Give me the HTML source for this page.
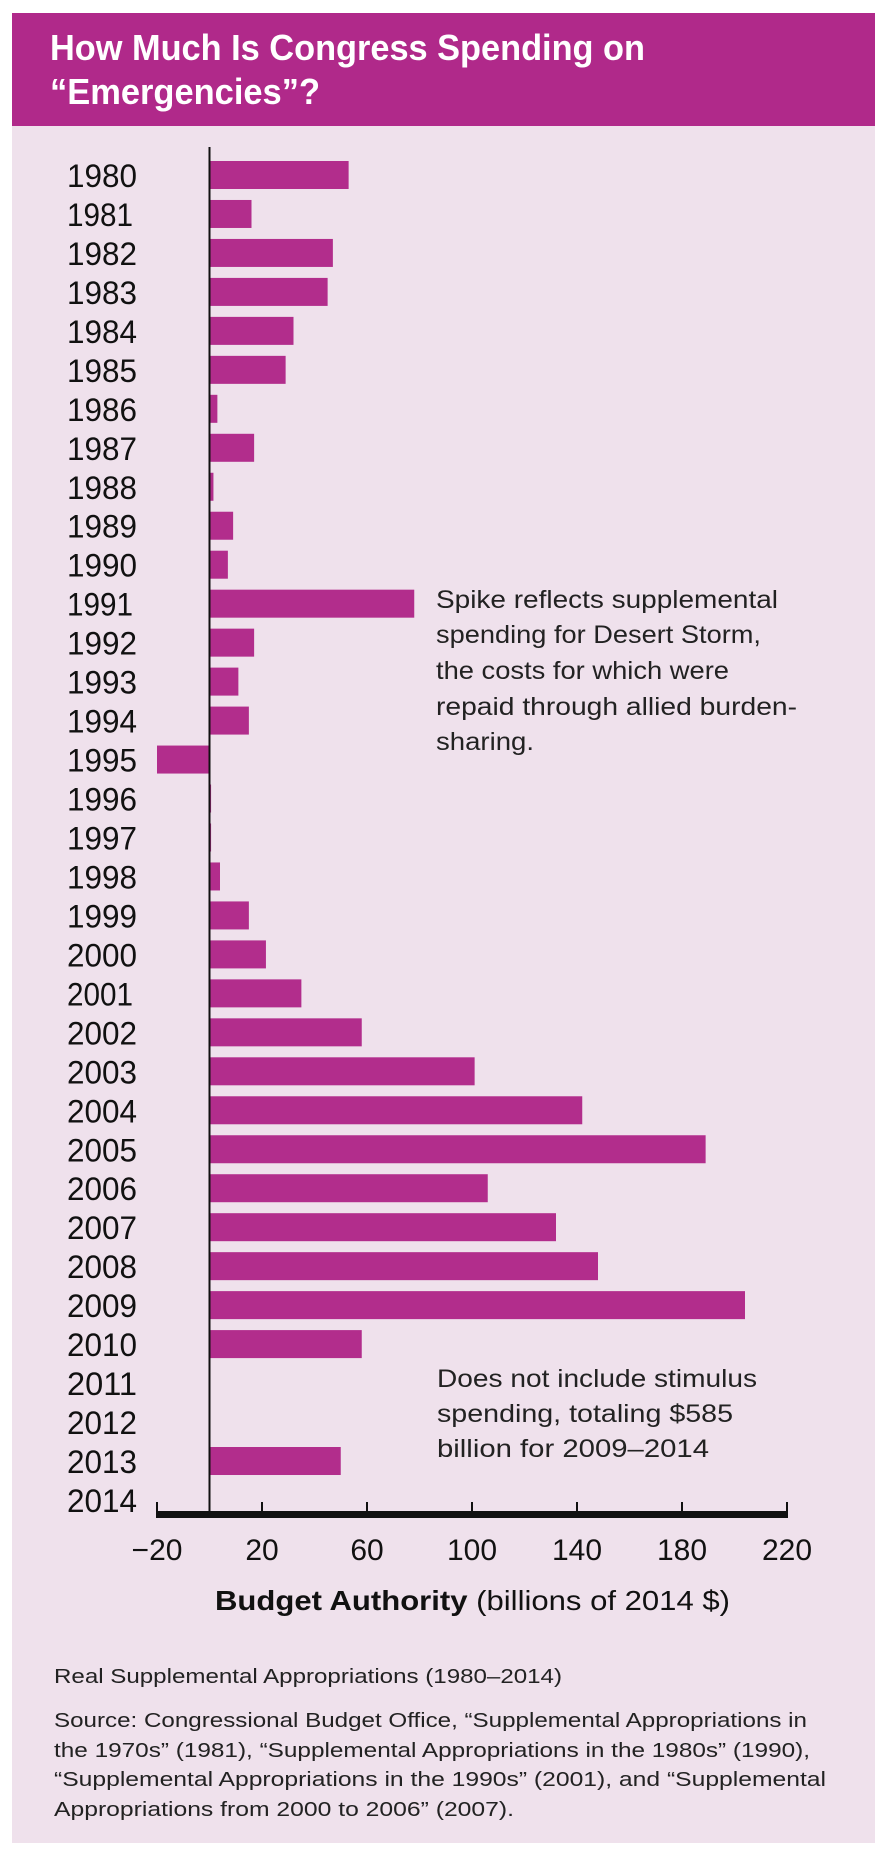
<!DOCTYPE html>
<html><head><meta charset="utf-8"><style>
html,body{margin:0;padding:0;background:#fff;}
svg{display:block;font-family:"Liberation Sans",sans-serif;}
</style></head><body>
<svg width="879" height="1857" viewBox="0 0 879 1857">
<rect x="12" y="13" width="863" height="1830" fill="#efe1ec"/>
<rect x="12" y="13" width="863" height="113" fill="#b0298a"/>
<text x="50" y="60" fill="#fff" font-weight="bold" font-size="36" textLength="595" lengthAdjust="spacingAndGlyphs">How Much Is Congress Spending on</text>
<text x="50" y="104" fill="#fff" font-weight="bold" font-size="36" textLength="270" lengthAdjust="spacingAndGlyphs">“Emergencies”?</text>
<g id="bars"></g>
<g id="labels"></g>
<g id="axis"></g>
<g font-size="25" fill="#222">
<text x="436" y="608" textLength="342" lengthAdjust="spacingAndGlyphs">Spike reflects supplemental</text>
<text x="436" y="643" textLength="325" lengthAdjust="spacingAndGlyphs">spending for Desert Storm,</text>
<text x="436" y="679" textLength="293" lengthAdjust="spacingAndGlyphs">the costs for which were</text>
<text x="436" y="715" textLength="361" lengthAdjust="spacingAndGlyphs">repaid through allied burden-</text>
<text x="436" y="750" textLength="98" lengthAdjust="spacingAndGlyphs">sharing.</text>
</g>
<g font-size="25" fill="#222">
<text x="437" y="1387" textLength="320" lengthAdjust="spacingAndGlyphs">Does not include stimulus</text>
<text x="437" y="1422" textLength="296" lengthAdjust="spacingAndGlyphs">spending, totaling $585</text>
<text x="437" y="1457" textLength="272" lengthAdjust="spacingAndGlyphs">billion for 2009–2014</text>
</g>
<text x="215" y="1610" font-size="28" fill="#111" textLength="515" lengthAdjust="spacingAndGlyphs"><tspan font-weight="bold">Budget Authority</tspan> (billions of 2014 $)</text>
<g font-size="20" fill="#222">
<text x="54" y="1683" textLength="508" lengthAdjust="spacingAndGlyphs">Real Supplemental Appropriations (1980–2014)</text>
<text x="54" y="1727" textLength="753" lengthAdjust="spacingAndGlyphs">Source: Congressional Budget Office, “Supplemental Appropriations in</text>
<text x="54" y="1757" textLength="756" lengthAdjust="spacingAndGlyphs">the 1970s” (1981), “Supplemental Appropriations in the 1980s” (1990),</text>
<text x="54" y="1786" textLength="772" lengthAdjust="spacingAndGlyphs">“Supplemental Appropriations in the 1990s” (2001), and “Supplemental</text>
<text x="54" y="1816" textLength="460" lengthAdjust="spacingAndGlyphs">Appropriations from 2000 to 2006” (2007).</text>
</g>
</svg>
<script>
const years = [1980,1981,1982,1983,1984,1985,1986,1987,1988,1989,1990,1991,1992,1993,1994,1995,1996,1997,1998,1999,2000,2001,2002,2003,2004,2005,2006,2007,2008,2009,2010,2011,2012,2013,2014];
const values = [53,16,47,45,32,29,3,17,1.5,9,7,78,17,11,15,-20,0.6,0.6,4,15,21.5,35,58,101,142,189,106,132,148,204,58,0,0,50,0];
const tickValues = [-20,20,60,100,140,180,220];
const tickLabels = ["−20","20","60","100","140","180","220"];
const NS = "http://www.w3.org/2000/svg";
const x = v => 209.5 + v * 2.625;
const yCenter = i => 175 + i * 38.97;
const barsG = document.getElementById('bars');
const labelsG = document.getElementById('labels');
const axisG = document.getElementById('axis');
years.forEach((yr, i) => {
  const v = values[i];
  if (v !== 0) {
    const r = document.createElementNS(NS, 'rect');
    r.setAttribute('x', Math.min(x(0), x(v)));
    r.setAttribute('y', yCenter(i) - 14);
    r.setAttribute('width', Math.abs(x(v) - x(0)));
    r.setAttribute('height', 28);
    r.setAttribute('fill', '#b22d8c');
    
    
    barsG.appendChild(r);
  }
  const t = document.createElementNS(NS, 'text');
  t.setAttribute('x', 67);
  t.setAttribute('y', yCenter(i) + 12);
  t.setAttribute('font-size', '32');
  t.setAttribute('fill', '#111');
  t.setAttribute('textLength', String(yr).endsWith('1') && yr !== 2011 ? 66 : 70);
  t.setAttribute('lengthAdjust', 'spacingAndGlyphs');
  t.textContent = yr;
  
  
  labelsG.appendChild(t);
});
// zero line
const zl = document.createElementNS(NS, 'line');
zl.setAttribute('x1', x(0)); zl.setAttribute('x2', x(0));
zl.setAttribute('y1', 147); zl.setAttribute('y2', 1512);
zl.setAttribute('stroke', '#111'); zl.setAttribute('stroke-width', 2);


axisG.appendChild(zl);
const base = document.createElementNS(NS, 'rect');
base.setAttribute('x', x(tickValues[0]) - 1);
base.setAttribute('y', 1511);
base.setAttribute('width', x(tickValues[tickValues.length-1]) - x(tickValues[0]) + 2);
base.setAttribute('height', 7);
base.setAttribute('fill', '#111');


axisG.appendChild(base);
tickValues.forEach((tv, i) => {
  const tk = document.createElementNS(NS, 'line');
  tk.setAttribute('x1', x(tv)); tk.setAttribute('x2', x(tv));
  tk.setAttribute('y1', 1502); tk.setAttribute('y2', 1512);
  tk.setAttribute('stroke', '#111'); tk.setAttribute('stroke-width', 2);
  
  
  axisG.appendChild(tk);
  const lb = document.createElementNS(NS, 'text');
  lb.setAttribute('x', x(tv));
  lb.setAttribute('y', 1560);
  lb.setAttribute('text-anchor', 'middle');
  lb.setAttribute('font-size', '30');
  lb.setAttribute('fill', '#111');
  lb.textContent = tickLabels[i];
  
  
  axisG.appendChild(lb);
});
</script>
</body></html>
